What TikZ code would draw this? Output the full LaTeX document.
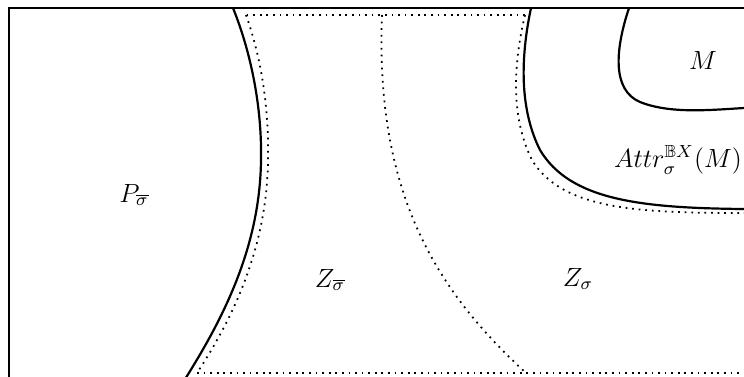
\documentclass[tikz,border=0pt]{standalone}
\usepackage{amssymb}
\begin{document}
\begin{tikzpicture}[x=0.016cm,y=-0.016cm,
  bound/.style={line width=1pt},
  dotline/.style={line width=0.8pt,dash pattern=on 0.8pt off 2.2pt},
  frameline/.style={line width=0.6pt},
  lbl/.style={inner sep=0pt,font=\large}]
\useasboundingbox (0,0) rectangle (744,376);
\clip (0,0) rectangle (744,376);
% frame
\draw[frameline] (9,8) rectangle (800,420);
% left thick curve
\draw[bound] (233,8) .. controls (252,55) and (262,110) .. (261,160)
  .. controls (260,245) and (225,315) .. (187,376) -- (182,384);
% left dotted curve with top and bottom dotted lines
\draw[dotline] (525,15) -- (246,15);
\draw[dotline] (246,15) .. controls (262,60) and (269,110) .. (268,160)
  .. controls (267,245) and (235,315) .. (197,373);
\draw[dotline] (197,373) -- (760,373);
% middle dotted curve
\draw[dotline] (382,15) .. controls (375,195) and (438,292) .. (526,373);
% attractor boundary
\draw[bound] (531,8) .. controls (520,60) and (520,110) .. (540,150)
  .. controls (570,200) and (640,208) .. (744,209) -- (760,209);
\draw[dotline] (525,15) .. controls (512,70) and (512,120) .. (532,160)
  .. controls (562,210) and (640,213) .. (744,213) -- (760,213);
% M boundary
\draw[bound] (629,8) .. controls (615,50) and (612,90) .. (640,102)
  .. controls (670,114) and (710,110) .. (744,108) -- (760,107);
% labels
\node[lbl] (m) at (703,60) {$M$};
\node[lbl] (attr) at (678,160) {$Attr^{\mathbb{B}X}_{\sigma}(M)$};
\node[lbl] (p) at (134,195) {$P_{\overline{\sigma}}$};
\node[lbl] (zb) at (330,280) {$Z_{\overline{\sigma}}$};
\node[lbl] (z) at (578,279) {$Z_{\sigma}$};
\end{tikzpicture}
\end{document}
